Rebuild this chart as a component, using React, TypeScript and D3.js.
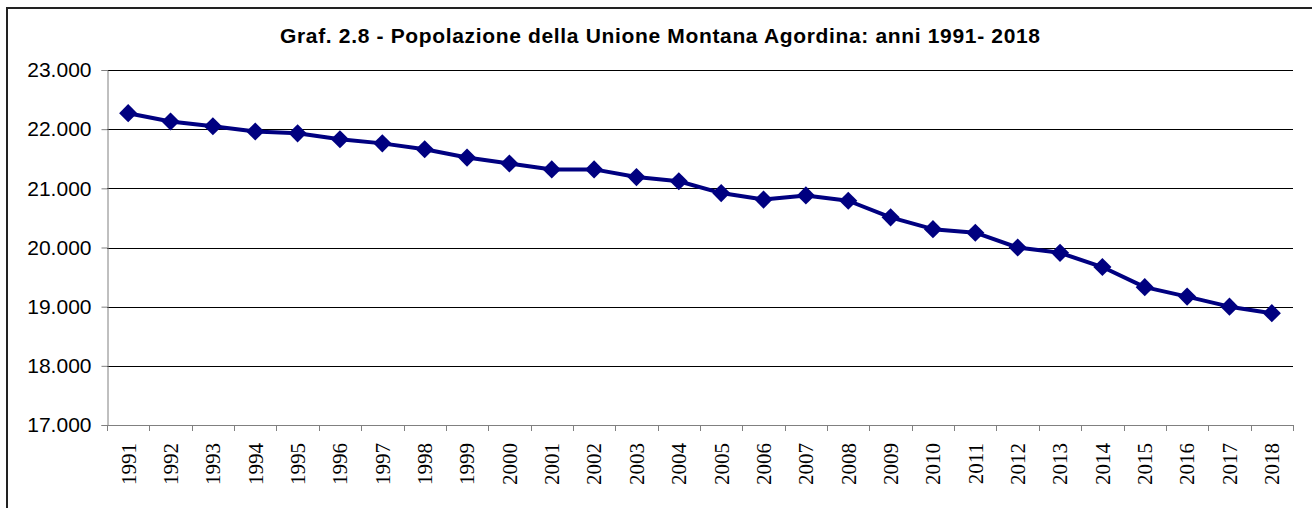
import React from 'react';
import * as d3 from 'd3';

const years = [
  '1991', '1992', '1993', '1994', '1995', '1996', '1997', '1998', '1999', '2000',
  '2001', '2002', '2003', '2004', '2005', '2006', '2007', '2008', '2009', '2010',
  '2011', '2012', '2013', '2014', '2015', '2016', '2017', '2018',
];
const population = [
  22270, 22130, 22050, 21960, 21930, 21830, 21760, 21660, 21520, 21420,
  21320, 21320, 21190, 21120, 20920, 20810, 20880, 20790, 20510, 20310,
  20250, 20000, 19910, 19670, 19330, 19170, 19000, 18890,
];
const yTicks = [17000, 18000, 19000, 20000, 21000, 22000, 23000];
const title = 'Graf. 2.8 - Popolazione della Unione Montana Agordina: anni 1991- 2018';

const W = 1312;
const H = 508;
const left = 107;
const right = 1293;
const top = 70;
const bottom = 425;

const itLocale = d3.formatLocale({ decimal: ',', thousands: '.', grouping: [3], currency: ['', '€'] });
const fmt = itLocale.format(',.0f');

const App: React.FC = () => {
  const svgRef = React.useRef<SVGSVGElement>(null);

  React.useEffect(() => {
    const svg = d3.select(svgRef.current);
    svg.selectAll('*').remove();

    const x = d3.scaleBand<string>().domain(years).range([left, right]).padding(0);
    const y = d3.scaleLinear().domain([17000, 23000]).range([bottom, top]);

    // outer frame (runs off the right/bottom of the picture)
    svg.append('rect')
      .attr('x', 7).attr('y', 8)
      .attr('width', W + 100).attr('height', H + 100)
      .attr('fill', 'none').attr('stroke', '#222').attr('stroke-width', 2);

    svg.append('text')
      .attr('x', 280).attr('y', 43)
      .attr('font-family', 'Liberation Sans, Arial, sans-serif')
      .attr('font-weight', 'bold')
      .attr('font-size', 21)
      .attr('textLength', 760)
      .attr('lengthAdjust', 'spacing')
      .attr('fill', '#000')
      .text(title);

    // gridlines
    svg.append('g')
      .selectAll('line')
      .data(yTicks.filter(t => t > 17000))
      .join('line')
      .attr('x1', left).attr('x2', right)
      .attr('y1', d => Math.round(y(d)) + 0.5).attr('y2', d => Math.round(y(d)) + 0.5)
      .attr('stroke', '#000').attr('stroke-width', 1);

    // y axis
    const yAxis = d3.axisLeft(y).tickValues(yTicks).tickFormat(d => fmt(d as number)).tickSize(6).tickPadding(10);
    const gy = svg.append('g').attr('transform', `translate(${left + 0.5},0)`).call(yAxis as any);
    gy.selectAll('path, line').attr('stroke', '#808080');
    gy.selectAll('text')
      .attr('font-family', 'Liberation Sans, Arial, sans-serif')
      .attr('font-size', 21).attr('fill', '#000');

    // x axis: ticks at category boundaries
    const gx = svg.append('g');
    gx.append('line')
      .attr('x1', left).attr('x2', right)
      .attr('y1', bottom + 0.5).attr('y2', bottom + 0.5)
      .attr('stroke', '#808080');
    const bounds = years.map(d => x(d) as number).concat([right]);
    gx.selectAll('line.tick')
      .data(bounds)
      .join('line')
      .attr('class', 'tick')
      .attr('x1', d => Math.round(d) + 0.5).attr('x2', d => Math.round(d) + 0.5)
      .attr('y1', bottom).attr('y2', bottom + 6)
      .attr('stroke', '#808080');
    gx.selectAll('text')
      .data(years)
      .join('text')
      .attr('transform', d => `translate(${(x(d) as number) + x.bandwidth() / 2},443) rotate(-90)`)
      .attr('text-anchor', 'end')
      .attr('dy', '0.35em')
      .attr('font-family', 'Liberation Serif, Times New Roman, serif')
      .attr('font-size', 21)
      .attr('fill', '#000')
      .text(d => d);

    // series
    const line = d3.line<number>()
      .x((_, i) => (x(years[i]) as number) + x.bandwidth() / 2)
      .y(d => y(d));
    svg.append('path')
      .datum(population)
      .attr('d', line)
      .attr('fill', 'none')
      .attr('stroke', '#000080')
      .attr('stroke-width', 4)
      .attr('stroke-linejoin', 'round');

    const diamond = d3.symbol().type(d3.symbolDiamond2).size(210);
    svg.append('g')
      .selectAll('path')
      .data(population)
      .join('path')
      .attr('d', diamond as any)
      .attr('transform', (d, i) => `translate(${(x(years[i]) as number) + x.bandwidth() / 2},${y(d)})`)
      .attr('fill', '#000080');
  }, []);

  return (
    <svg
      ref={svgRef}
      width={W}
      height={H}
      style={{ position: 'absolute', left: 0, top: 0, background: '#fff' }}
    />
  );
};

export default App;
